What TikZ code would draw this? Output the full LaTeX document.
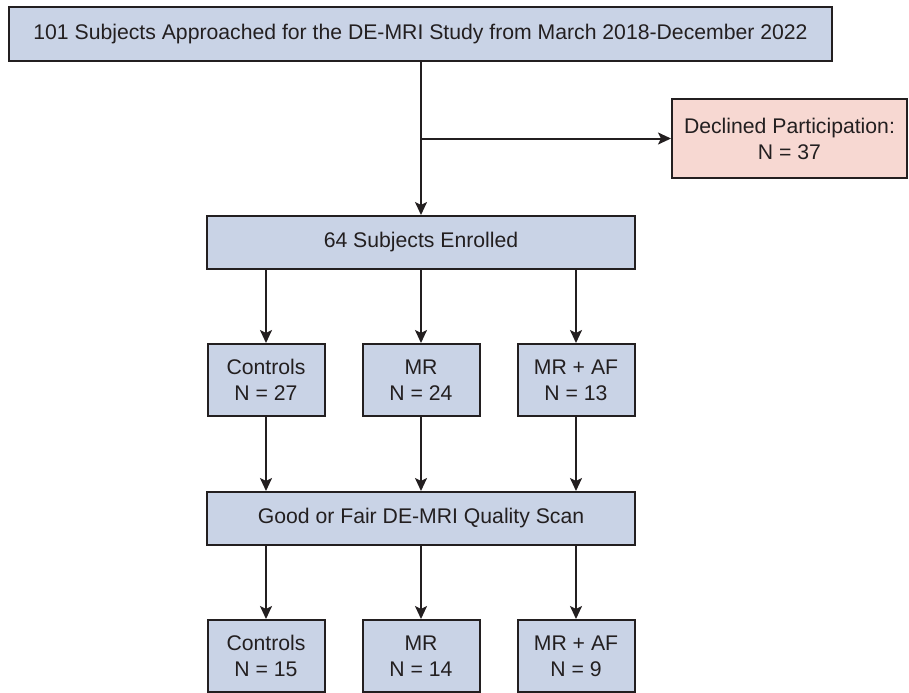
\documentclass[tikz,border=0pt]{standalone}
\usepackage{fontspec}
\setmainfont{Liberation Sans}
\usetikzlibrary{arrows.meta,positioning}
\definecolor{BoxBlue}{RGB}{201,211,230}
\definecolor{BoxPink}{RGB}{247,216,210}
\definecolor{EdgeGray}{RGB}{35,31,32}

\begin{document}
\begin{tikzpicture}[x=0.5pt,y=-0.5pt,>={Stealth[length=6.5pt,width=6pt,inset=1.5pt]},
    box/.style={draw=EdgeGray,line width=1pt,fill=BoxBlue,inner sep=0pt,align=center,
      font=\fontsize{10.6}{13}\selectfont,text=EdgeGray},
    wide/.style={box,minimum width=214pt,minimum height=26.5pt},
    group/.style={box,minimum width=58.5pt,minimum height=36pt},
    link/.style={->,line width=1pt,EdgeGray}]
      \useasboundingbox (0,0) rectangle (909,692);
      \node[box,minimum width=411.5pt,minimum height=27pt] (approached) at (420.5,34)
        {101 Subjects Approached for the DE-MRI Study from March 2018-December 2022};
      \node[box,fill=BoxPink,minimum width=117.5pt,minimum height=39.5pt] (declined) at (789.5,138.5)
        {Declined Participation:\\N = 37};
      \node[wide] (enrolled) at (421,242.5) {64 Subjects Enrolled};
      \node[group] (controlsA) at (266,380) {Controls\\N = 27};
      \node[group] (mrA) at (421,380) {MR\\N = 24};
      \node[group] (afA) at (576,380) {MR + AF\\N = 13};
      \node[wide] (quality) at (421,518.5) {Good or Fair DE-MRI Quality Scan};
      \node[group] (controlsB) at (266,656) {Controls\\N = 15};
      \node[group] (mrB) at (421,656) {MR\\N = 14};
      \node[group] (afB) at (576,656) {MR + AF\\N = 9};
      \coordinate (split) at (421,138.5);
      \draw[link] (approached.south -| split) -- (enrolled.north);
      \draw[link] (split) -- (declined.west);
      \foreach \col in {controls,mr,af}{
        \draw[link] (enrolled.south -| \col A) -- (\col A.north);
        \draw[link] (\col A.south) -- (quality.north -| \col A);
        \draw[link] (quality.south -| \col B) -- (\col B.north);
      }
    \end{tikzpicture}
\end{document}
